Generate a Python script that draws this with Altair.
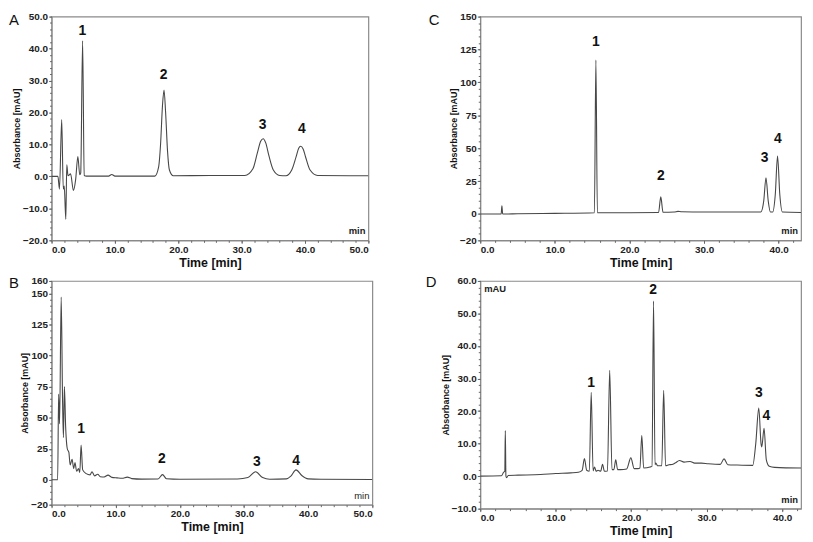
import altair as alt
import pandas as pd

FONT = "Liberation Sans"
LINE = "#474747"

# ---------------- data (time [min], absorbance [mAU]) ----------------
A_t = [0, 1.0, 1.25, 1.6, 1.85, 2.0, 2.25, 2.4, 2.6, 3.0, 3.45, 3.8, 4.15, 4.45, 4.6, 4.9, 5.15, 5.5,
       9.0, 9.5, 10.0, 16.3, 16.9, 17.2, 17.5, 17.75, 18.0, 18.3, 18.6, 19.2, 25.0, 30.5, 31.8, 32.5,
       33.0, 33.4, 33.8, 34.3, 35.0, 36.0, 37.0, 37.9, 38.6, 39.0, 39.3, 39.7, 40.1, 40.8, 42.0, 50.0]
A_v = [0, 0, -4, 17.8, -4, -3, -13.4, 3.6, 0.2, 0.8, -4.4, -1, 6.2, 0.5, 1, 42.4, 0.3, 0.1,
       0.1, 0.6, 0.1, 0.1, 3, 10, 22, 27, 20, 8, 2, 0.2, 0.3, 0.3, 2.5, 7.5,
       11, 11.8, 10.5, 6.5, 2, 0.3, 0.2, 2, 6.2, 8.8, 9.45, 8.6, 6, 2, 0.3, 0.2]

B_t = [0, 0.95, 1.1, 1.25, 1.5, 1.72, 1.85, 2.0, 2.2, 2.45, 2.7, 2.9, 3.2, 3.45, 3.65, 3.9, 4.2, 4.4,
       4.6, 4.85, 5.4, 6.0, 6.3, 6.7, 7.2, 7.6, 8.2, 8.8, 9.4, 10.2, 11.0, 11.8, 12.5, 14.0, 16.6,
       17.3, 17.9, 20.0, 29.0, 30.6, 31.8, 32.9, 34.0, 36.6, 37.3, 38.1, 39.0, 40.0, 42.0, 50.0]
B_v = [0, 0, 69, 45, 147, 62, 34, 75, 42, 25, 22, 12, 16.5, 9, 14, 7, 9, 6,
       28, 8, 5, 4, 6.5, 3.2, 4.5, 2.5, 2.3, 3.8, 2, 1.6, 1.3, 2.2, 1, 0.6, 0.7,
       4.2, 0.9, 0.5, 0.7, 1.8, 6.5, 1.8, 0.5, 0.8, 3, 8, 3.5, 0.8, 0.5, 0.3]

C_t = [0, 2.8, 2.9, 3.0, 3.1, 5, 10, 15.3, 15.5, 15.7, 20, 23.9, 24.2, 24.5, 26, 26.5, 27,
       30, 37.6, 38.0, 38.3, 38.6, 38.9, 39.2, 39.55, 39.85, 40.15, 40.5, 43]
C_v = [0, 0, 6.2, 0.3, 0, 0.2, 0.5, 1, 117, 1, 1, 1.2, 13, 1.3, 1.5, 2, 1.7,
       1.5, 1.5, 10, 27.5, 10, 1.5, 1.5, 15, 44, 15, 1.5, 1.2]

D_t = [0, 2.8, 3.1, 3.25, 3.32, 3.4, 3.5, 3.7, 5, 8, 10, 12, 13, 13.5, 13.8, 14.1, 14.45, 14.7,
       14.95, 15.15, 15.35, 15.6, 15.95, 16.2, 16.45, 16.85, 17.15, 17.45, 17.7, 17.95, 18.2,
       18.6, 19.4, 19.95, 20.4, 20.9, 21.15, 21.4, 21.65, 22.5, 22.75, 22.96, 23.15, 23.26, 23.5,
       24.05, 24.3, 24.55, 25.0, 25.4, 25.8, 26.4, 27.0, 27.8, 28.4, 29.3, 30.2, 31.8, 32.3, 32.8,
       34, 36.1, 36.5, 36.9, 37.2, 37.3, 37.6, 37.9, 38.3, 39, 42.5]
D_v = [0, 0.1, 1.2, 1.5, 14, 0, -0.5, 0.2, 0.3, 0.5, 0.8, 1.0, 1.2, 1.8, 5.4, 1.8, 1.5, 25.8,
       1.6, 2.8, 1.5, 1.8, 1.5, 3.6, 1.5, 1.6, 32.5, 2.0, 2.0, 5.0, 2.0,
       2.0, 2.2, 5.6, 2.3, 2.3, 2.5, 12.5, 2.5, 2.8, 3.0, 53.8, 3.5, 4.0, 3.2,
       3.2, 26.4, 3.2, 3.5, 3.6, 4.0, 4.8, 4.3, 4.5, 4.0, 4.0, 3.8, 3.6, 5.3, 3.5,
       3.4, 3.3, 10, 20.9, 10, 9, 14.7, 5, 3, 2.7, 2.5]

# peak labels: text, time, absorbance position
PEAK_TEXT = ["1", "2", "3", "4"]
A_lab_t = [4.85, 17.7, 33.3, 39.5]
A_lab_v = [45.5, 31.7, 16.2, 14.7]
B_lab_t = [4.6, 17.2, 32.0, 38.1]
B_lab_v = [41, 16.7, 14.3, 15.4]
C_lab_t = [15.5, 24.2, 38.1, 39.9]
C_lab_v = [131, 28.5, 42.2, 56.7]
D_lab_t = [14.7, 22.9, 36.9, 37.9]
D_lab_v = [28.5, 57.3, 25.6, 18.6]

# axis ticks
A_xticks = [0, 10, 20, 30, 40, 50]
A_yticks = [-20, -10, 0, 10, 20, 30, 40, 50]
B_xticks = [0, 10, 20, 30, 40, 50]
B_yticks = [-20, 0, 25, 50, 75, 100, 125, 150, 160]
C_xticks = [0, 10, 20, 30, 40]
C_yticks = [-20, 0, 25, 50, 75, 100, 125, 150]
D_xticks = [0, 10, 20, 30, 40]
D_yticks = [-10, 0, 10, 20, 30, 40, 50, 60]


def frange(a, b, step):
    out = []
    v = a
    while v <= b + 1e-9:
        out.append(round(v, 3))
        v += step
    return out


def panel(ts, vs, xmax, ymin, ymax, xticks, yticks, yfmt, xminor, yminor,
          lab_t, lab_v, letter, w, h, lx, ly, min_weight="bold", mau=False):
    df = pd.DataFrame({"t": ts, "a": vs})
    xs = alt.Scale(domain=[0, xmax], nice=False, zero=False)
    ys = alt.Scale(domain=[ymin, ymax], nice=False, zero=False)
    line = alt.Chart(df).mark_line(color=LINE, strokeWidth=1.1, interpolate="monotone", clip=True).encode(
        x=alt.X("t:Q", scale=xs, axis=alt.Axis(values=xticks, format=".1f", title="Time [min]")),
        y=alt.Y("a:Q", scale=ys, axis=alt.Axis(values=yticks, format=yfmt, title="Absorbance [mAU]")),
    )
    minor = alt.Chart(df).mark_point(opacity=0).encode(
        x=alt.X("t:Q", scale=xs, axis=alt.Axis(values=xminor, labels=False, tickSize=2, domain=False,
                                               grid=False, title=None, orient="bottom")),
        y=alt.Y("a:Q", scale=ys, axis=alt.Axis(values=yminor, labels=False, tickSize=2, domain=False,
                                               grid=False, title=None, orient="left")),
    )
    ldf = pd.DataFrame({"t": lab_t, "a": lab_v, "s": PEAK_TEXT})
    labels = alt.Chart(ldf).mark_text(font=FONT, fontSize=14, fontWeight="bold", color="#111",
                                      baseline="middle").encode(
        x=alt.X("t:Q", scale=xs, axis=None), y=alt.Y("a:Q", scale=ys, axis=None), text="s:N")
    mintxt = alt.Chart(pd.DataFrame({"s": ["min"]})).mark_text(
        font=FONT, fontSize=9.5, fontWeight=min_weight, color="#222", align="right", baseline="middle"
    ).encode(x=alt.value(w - 3), y=alt.value(h - 9), text="s:N")
    let = alt.Chart(pd.DataFrame({"s": [letter]})).mark_text(
        font=FONT, fontSize=15, color="#111", align="left", baseline="middle"
    ).encode(x=alt.value(lx), y=alt.value(ly), text="s:N")
    layers = [line, minor, labels, mintxt, let]
    if mau:
        layers.append(alt.Chart(pd.DataFrame({"s": ["mAU"]})).mark_text(
            font=FONT, fontSize=9.5, fontWeight="bold", color="#222", align="left", baseline="middle"
        ).encode(x=alt.value(4), y=alt.value(8), text="s:N"))
    return alt.layer(*layers).resolve_axis(x="independent", y="independent").properties(width=w, height=h)


pA = panel(A_t, A_v, 50, -20, 50, A_xticks, A_yticks, ".1f", frange(0, 50, 2), frange(-20, 50, 2),
           A_lab_t, A_lab_v, "A", 320, 226, -43, 4)
pC = panel(C_t, C_v, 43, -20, 150, C_xticks, C_yticks, "d", frange(0, 43, 2), frange(-20, 150, 5),
           C_lab_t, C_lab_v, "C", 324, 226, -52, 3)
pB = panel(B_t, B_v, 50, -20, 160, B_xticks, B_yticks, "d", frange(0, 50, 2), frange(-20, 160, 5),
           B_lab_t, B_lab_v, "B", 324, 226, -43, 2, min_weight="normal")
pD = panel(D_t, D_v, 42.5, -10, 60, D_xticks, D_yticks, ".1f", frange(0, 42.5, 2), frange(-10, 60, 2),
           D_lab_t, D_lab_v, "D", 324, 230, -55, 1, mau=True)

chart = alt.concat(pA, pC, pB, pD, columns=2, align="each", spacing={"row": 4, "column": 49}).properties(
    padding=0
).configure_view(stroke="#8a8a8a", strokeWidth=1.2).configure_axis(
    labelFont=FONT, labelFontSize=10, labelFontWeight="bold", labelColor="#222",
    tickColor="#666", tickSize=3, labelPadding=1, domainColor="#8a8a8a", grid=False,
    titleFont=FONT, titleFontWeight="bold", titleColor="#111",
).configure_axisX(titleFontSize=12.5, titlePadding=2).configure_axisY(titleFontSize=9, titlePadding=1)

chart.save("out.html", embed_options={"renderer": "svg", "actions": False})
